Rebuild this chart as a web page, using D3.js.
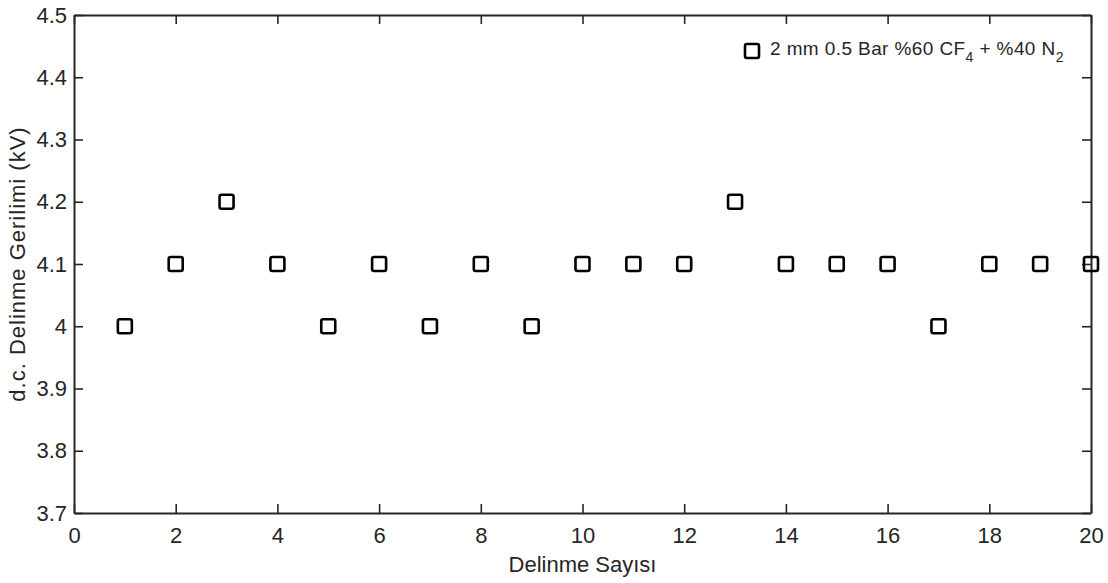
<!DOCTYPE html>
<html>
<head>
<meta charset="utf-8">
<script src="https://cdn.jsdelivr.net/npm/d3@7"></script>
<style>
  body { margin: 0; background: #fff; }
  svg text { font-family: "Liberation Sans", Arial, sans-serif; fill: #262626; }
</style>
</head>
<body>
<div id="chart"></div>
<script>
// delinme sayisi (breakdown no) and d.c. breakdown voltage (kV)
var shots = d3.range(1, 21);
var voltages = [4.0, 4.1, 4.2, 4.1, 4.0, 4.1, 4.0, 4.1, 4.0, 4.1,
                4.1, 4.1, 4.2, 4.1, 4.1, 4.1, 4.0, 4.1, 4.1, 4.1];
var xTicks = [0, 2, 4, 6, 8, 10, 12, 14, 16, 18, 20];
var yTicks = [3.7, 3.8, 3.9, 4.0, 4.1, 4.2, 4.3, 4.4, 4.5];

var W = 1108, H = 583;
var margin = {top: 15, right: 17, bottom: 70, left: 74},
    width = W - margin.left - margin.right,
    height = H - margin.top - margin.bottom;

var svg = d3.select("#chart").append("svg")
    .attr("width", W)
    .attr("height", H);

var g = svg.append("g")
    .attr("transform", "translate(" + margin.left + "," + margin.top + ")");

var x = d3.scaleLinear().domain([0, 20]).range([0, width]);
var y = d3.scaleLinear().domain([3.7, 4.5]).range([height, 0]);

var tickLen = 9;
var fontSize = 22;
var fmtY = function(d) { return d === 4 ? "4" : d3.format(".1f")(d); };

// bottom & left axes with labels, ticks point inward
var xAxis = g.append("g")
    .attr("transform", "translate(0," + height + ")")
    .call(d3.axisBottom(x).tickValues(xTicks).tickSize(-tickLen).tickPadding(14).tickSizeOuter(0));
var yAxis = g.append("g")
    .call(d3.axisLeft(y).tickValues(yTicks).tickFormat(fmtY).tickSize(-tickLen).tickPadding(7).tickSizeOuter(0));
// top & right mirror axes, no labels
var xTop = g.append("g")
    .call(d3.axisTop(x).tickValues(xTicks).tickSize(-tickLen).tickFormat("").tickSizeOuter(0));
var yRight = g.append("g")
    .attr("transform", "translate(" + width + ",0)")
    .call(d3.axisRight(y).tickValues(yTicks).tickSize(-tickLen).tickFormat("").tickSizeOuter(0));

[xAxis, yAxis, xTop, yRight].forEach(function(a) {
  a.select(".domain").attr("stroke", "#262626").attr("stroke-width", 2);
  a.selectAll(".tick line").attr("stroke", "#262626").attr("stroke-width", 1.6);
  a.selectAll(".tick text").attr("font-size", fontSize).style("font-family", "Liberation Sans, Arial, sans-serif").attr("fill", "#262626");
});
xAxis.selectAll(".tick text").attr("dy", "0.71em");

// square markers
var sq = 14;
g.selectAll(".pt")
  .data(shots)
  .enter().append("rect")
    .attr("class", "pt")
    .attr("x", function(d) { return x(d) - sq / 2; })
    .attr("y", function(d, i) { return y(voltages[i]) - sq / 2; })
    .attr("width", sq)
    .attr("height", sq)
    .attr("rx", 2)
    .attr("fill", "none")
    .attr("stroke", "#000")
    .attr("stroke-width", 2.6);

// axis titles
svg.append("text")
    .attr("x", margin.left + width / 2)
    .attr("y", 572)
    .attr("text-anchor", "middle")
    .attr("font-size", fontSize)
    .text("Delinme Sayısı");

svg.append("text")
    .attr("transform", "translate(25," + (margin.top + height / 2) + ") rotate(-90)")
    .attr("text-anchor", "middle")
    .attr("font-size", fontSize)
    .attr("letter-spacing", 1)
    .text("d.c. Delinme Gerilimi (kV)");

// legend
var leg = svg.append("g").attr("transform", "translate(752,51)");
leg.append("rect")
    .attr("x", -7).attr("y", -7)
    .attr("width", 14).attr("height", 14)
    .attr("rx", 2)
    .attr("fill", "none")
    .attr("stroke", "#000")
    .attr("stroke-width", 2.6);
var lt = leg.append("text")
    .attr("x", 18)
    .attr("y", 4)
    .attr("font-size", 19)
    .attr("letter-spacing", 0.4);
lt.append("tspan").text("2 mm 0.5 Bar %60 CF");
lt.append("tspan").attr("dy", 7).attr("font-size", 14).text("4");
lt.append("tspan").attr("dy", -7).text(" + %40 N");
lt.append("tspan").attr("dy", 7).attr("font-size", 14).text("2");
</script>
</body>
</html>
